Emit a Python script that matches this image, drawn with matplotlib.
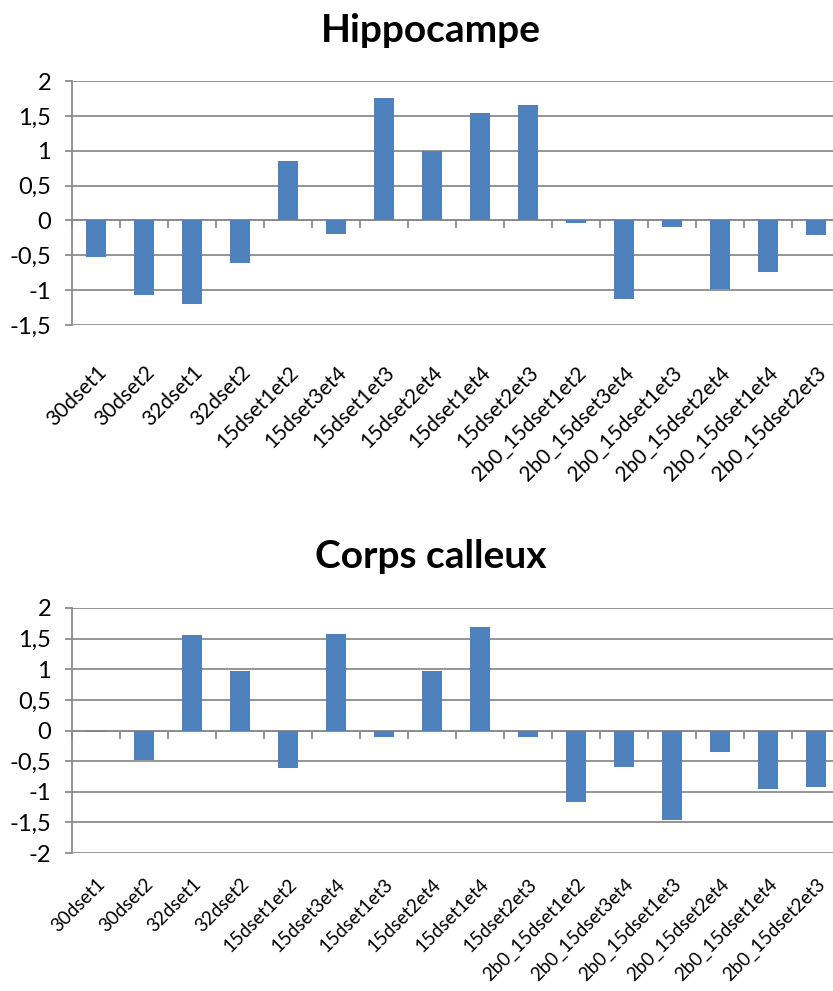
import matplotlib.pyplot as plt
import numpy as np
from matplotlib.ticker import FuncFormatter

plt.rcParams['font.family'] = ['Lato', 'DejaVu Sans']

categories = ['30dset1', '30dset2', '32dset1', '32dset2', '15dset1et2', '15dset3et4',
              '15dset1et3', '15dset2et4', '15dset1et4', '15dset2et3',
              '2b0_15dset1et2', '2b0_15dset3et4', '2b0_15dset1et3',
              '2b0_15dset2et4', '2b0_15dset1et4', '2b0_15dset2et3']
hippocampe = [-0.53, -1.07, -1.20, -0.61, 0.85, -0.19, 1.76, 0.99,
              1.54, 1.66, -0.03, -1.12, -0.10, -0.99, -0.74, -0.21]
corps_calleux = [-0.03, -0.48, 1.56, 0.97, -0.62, 1.58, -0.11, 0.97,
                 1.69, -0.11, -1.16, -0.59, -1.46, -0.35, -0.95, -0.93]

bar_color = '#4F81BD'
grid_color = '#8C8C8C'

W, H = 833, 991
fig = plt.figure(figsize=(W / 100, H / 100), dpi=100)


def comma(v, pos):
    s = ('%g' % v).replace('.', ',')
    return '0' if s in ('-0', '0') else s


def make_panel(rect, values, title, title_y, ymin, ymax, label_pad, label_size):
    ax = fig.add_axes(rect)
    x = np.arange(len(values))
    ax.bar(x, values, width=0.4, color=bar_color, zorder=3)
    ax.set_xlim(-0.5, len(values) - 0.5)
    ax.set_ylim(ymin, ymax)
    ax.set_yticks(np.arange(ymin, ymax + 0.01, 0.5))
    ax.yaxis.set_major_formatter(FuncFormatter(comma))
    ax.grid(axis='y', color=grid_color, linewidth=1.3, zorder=0)
    for s in ['top', 'right', 'bottom']:
        ax.spines[s].set_visible(False)
    ax.spines['left'].set_color(grid_color)
    ax.spines['left'].set_linewidth(1.3)
    ax.tick_params(axis='y', length=5, width=1.3, color=grid_color,
                   labelsize=17, pad=10, labelcolor='black')

    ax.set_xticks(x)
    ax.set_xticklabels(categories, rotation=45, ha='right', va='top',
                       rotation_mode='anchor', fontsize=label_size)
    ax.tick_params(axis='x', length=0, pad=label_pad)

    # category axis crossing at zero, ticks between categories
    sec = ax.secondary_xaxis(0, transform=ax.transData)
    sec.set_xticks(np.arange(len(values) + 1) - 0.5)
    sec.set_xticklabels([])
    sec.tick_params(length=6, width=1.3, color=grid_color, direction='out')
    sec.spines['bottom'].set_color(grid_color)
    sec.spines['bottom'].set_linewidth(1.3)

    fig.text(431 / W, 1 - title_y / H, title, ha='center', va='center',
             fontsize=28, fontweight='bold')
    return ax


make_panel([72 / W, 1 - 325 / H, 768 / W, 244 / H], hippocampe,
           'Hippocampe', 30, -1.5, 2, 27, 15)
make_panel([72 / W, 1 - 853 / H, 768 / W, 245 / H], corps_calleux,
           'Corps calleux', 557, -2, 2, 16, 13.5)

fig.savefig('out.png', dpi=100)
